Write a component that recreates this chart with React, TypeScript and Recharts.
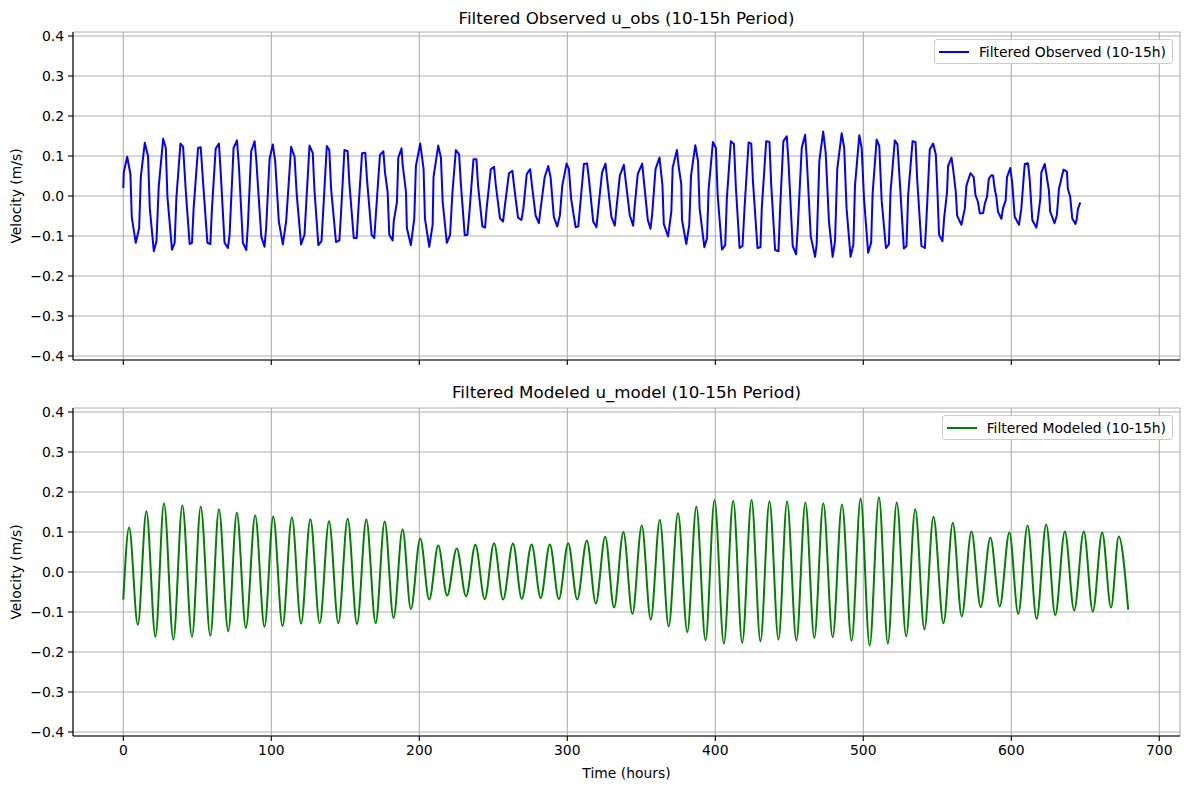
import React from 'react';
import { LineChart, Line, XAxis, YAxis, CartesianGrid, Legend } from 'recharts';

// Band-pass filtered (10-15 h) eastward velocity, observed record
const obsHours = [
  0, 0.3, 2.6, 4.8, 5.7, 8.4, 10.7, 11.8, 14.5, 16.7, 17.9, 20.6, 22.4, 23.9, 26.9, 28.7, 29.8, 32.9, 34.7, 35.9,
  38.6, 40.4, 42.1, 44.8, 46.4, 47.5, 50.5, 52.3, 53.8, 56.8, 58.8, 59.9, 62.4, 64.6, 65.8, 68.4, 70.7, 71.8, 74.5, 76.8,
  78.1, 80.8, 83.1, 84.2, 86.4, 88.7, 89.8, 93.2, 95.4, 96.5, 98.8, 101.0, 102.6, 105.1, 107.8, 110.0, 113.4, 115.7, 117.2, 120.1,
  122.4, 125.8, 128.0, 129.1, 131.8, 133.9, 135.4, 137.5, 139.2, 140.4, 143.7, 146.0, 147.1, 149.4, 151.6, 152.7, 155.7, 157.7, 159.0, 161.3,
  163.5, 164.7, 167.8, 169.6, 170.7, 173.4, 175.7, 176.8, 178.6, 179.7, 182.0, 182.7, 184.9, 185.8, 188.0, 188.7, 191.0, 191.6, 194.3, 196.6,
  197.7, 200.6, 202.9, 203.8, 206.7, 209.0, 209.6, 212.8, 214.6, 215.8, 218.6, 220.8, 222.4, 224.7, 226.9, 228.0, 230.7, 232.5, 233.7, 236.6,
  238.6, 239.7, 242.6, 244.4, 245.5, 248.3, 250.5, 251.6, 254.5, 256.6, 257.6, 260.6, 262.9, 264.0, 266.7, 269.0, 270.3, 272.6, 274.9, 276.0,
  278.6, 280.8, 282.0, 284.7, 287.1, 288.7, 290.9, 293.2, 295.0, 296.6, 299.5, 301.1, 302.6, 305.6, 307.4, 308.9, 311.2, 313.4, 314.6, 317.5,
  319.7, 321.3, 323.5, 325.8, 326.9, 329.8, 332.1, 333.2, 335.5, 338.2, 339.3, 342.2, 344.5, 345.4, 347.6, 350.6, 351.7, 354.4, 356.2, 357.3,
  359.6, 362.3, 364.3, 365.2, 368.1, 370.3, 371.2, 374.1, 375.2, 377.0, 377.5, 380.4, 382.4, 383.6, 386.5, 388.3, 389.4, 392.6, 394.4, 395.5,
  398.4, 400.4, 401.6, 404.5, 406.7, 407.8, 410.5, 412.6, 413.9, 416.4, 418.4, 419.8, 422.5, 424.3, 425.4, 428.5, 430.5, 431.4, 434.4, 436.6,
  437.7, 440.4, 442.7, 443.8, 446.0, 448.3, 449.4, 452.3, 454.6, 455.7, 458.4, 460.7, 461.7, 464.5, 467.4, 468.5, 470.3, 472.9, 474.6, 476.8,
  479.3, 480.9, 482.4, 485.4, 487.1, 488.7, 491.4, 493.3, 494.4, 497.3, 498.9, 500.5, 503.3, 505.3, 506.3, 509.0, 510.8, 512.4, 515.3, 517.3,
  518.4, 521.3, 523.1, 524.7, 527.4, 529.2, 530.3, 533.3, 535.3, 536.4, 539.3, 541.6, 542.7, 544.9, 547.2, 549.0, 549.9, 551.2, 553.5, 554.6,
  556.6, 557.3, 559.6, 560.7, 562.5, 563.4, 566.3, 568.6, 569.7, 572.4, 574.6, 575.8, 577.5, 578.7, 581.0, 582.1, 583.6, 584.8, 586.5, 587.7,
  588.8, 589.9, 591.0, 593.3, 594.4, 596.2, 597.1, 599.3, 600.6, 602.3, 605.2, 606.8, 608.4, 609.1, 611.3, 612.4, 614.2, 616.9, 618.0, 619.6,
  620.3, 622.6, 623.7, 625.4, 626.3, 629.2, 630.8, 632.2, 635.3, 637.6, 638.2, 639.8, 641.2, 643.4, 644.3, 645.0, 646.6,
];

const obsVelocity = [
  0.020, 0.059, 0.098, 0.055, -0.052, -0.117, -0.080, 0.047, 0.133, 0.100, -0.031, -0.138, -0.113, 0.022, 0.143, 0.120, -0.002, -0.134, -0.117, -0.002,
  0.131, 0.123, 0.018, -0.120, -0.117, -0.031, 0.120, 0.122, 0.039, -0.117, -0.120, -0.031, 0.118, 0.131, 0.059, -0.117, -0.130, -0.097, 0.120, 0.139,
  0.075, -0.117, -0.135, -0.072, 0.112, 0.137, 0.092, -0.101, -0.127, -0.080, 0.092, 0.129, 0.088, -0.064, -0.121, -0.064, 0.123, 0.098, 0.002, -0.121,
  -0.097, 0.126, 0.108, 0.018, -0.123, -0.113, -0.015, 0.125, 0.115, 0.018, -0.115, -0.111, -0.043, 0.115, 0.112, 0.034, -0.105, -0.105, -0.023, 0.107,
  0.108, 0.039, -0.097, -0.105, -0.043, 0.102, 0.112, 0.059, 0.010, -0.097, -0.111, -0.064, -0.015, 0.096, 0.119, 0.080, 0.010, -0.080, -0.123, -0.056,
  0.075, 0.131, 0.067, -0.056, -0.127, -0.072, 0.047, 0.126, 0.096, -0.015, -0.117, -0.097, 0.010, 0.115, 0.104, 0.034, -0.098, -0.097, -0.048, 0.092,
  0.092, 0.026, -0.076, -0.079, -0.031, 0.067, 0.073, 0.030, -0.056, -0.064, -0.031, 0.057, 0.063, 0.026, -0.054, -0.060, -0.031, 0.055, 0.067, 0.030,
  -0.049, -0.068, -0.031, 0.047, 0.075, 0.047, -0.052, -0.076, -0.048, 0.026, 0.081, 0.067, -0.007, -0.078, -0.076, -0.015, 0.080, 0.081, 0.043, -0.064,
  -0.078, -0.019, 0.059, 0.081, 0.043, -0.052, -0.074, -0.031, 0.051, 0.078, 0.043, -0.048, -0.074, -0.031, 0.055, 0.081, 0.039, -0.060, -0.082, -0.048,
  0.067, 0.096, 0.026, -0.070, -0.101, -0.039, 0.071, 0.115, 0.075, 0.030, -0.060, -0.120, -0.072, 0.051, 0.127, 0.088, -0.031, -0.128, -0.105, 0.018,
  0.135, 0.120, 0.002, -0.134, -0.123, -0.007, 0.137, 0.130, 0.022, -0.130, -0.125, -0.027, 0.134, 0.131, 0.039, -0.130, -0.128, -0.031, 0.137, 0.135,
  0.034, -0.135, -0.138, -0.031, 0.137, 0.149, 0.088, -0.125, -0.146, -0.080, 0.120, 0.153, 0.100, -0.101, -0.152, -0.121, 0.088, 0.161, 0.108, -0.064,
  -0.152, -0.113, 0.067, 0.157, 0.120, -0.031, -0.152, -0.121, 0.026, 0.152, 0.120, -0.007, -0.142, -0.117, 0.006, 0.141, 0.125, -0.011, -0.130, -0.121,
  0.010, 0.139, 0.129, 0.034, -0.131, -0.125, 0.002, 0.137, 0.135, 0.043, -0.125, -0.130, -0.056, 0.116, 0.131, 0.104, 0.030, -0.097, -0.113, -0.056,
  0.010, 0.075, 0.096, 0.067, 0.010, -0.049, -0.072, -0.031, 0.026, 0.057, 0.047, 0.002, -0.015, -0.043, -0.043, -0.019, -0.002, 0.043, 0.052, 0.051,
  0.018, -0.002, -0.039, -0.057, -0.031, -0.011, 0.047, 0.070, 0.034, -0.052, -0.072, -0.031, 0.047, 0.080, 0.082, 0.043, -0.060, -0.079, -0.056, -0.007,
  0.059, 0.080, 0.055, 0.014, -0.039, -0.068, -0.048, 0.018, 0.066, 0.061, 0.018, -0.002, -0.056, -0.070, -0.056, -0.033, -0.016,
];

// Modeled velocity: start, successive crests and troughs, end
const modelHours = [
  0, 3.9, 9.8, 15.6, 21.7, 27.5, 33.8, 39.9, 46.4, 52.3, 58.8, 64.6, 70.9, 76.7, 82.8, 89.1, 95.4, 101.3, 107.6, 113.9,
  120.1, 126.4, 132.7, 139.0, 145.3, 151.6, 157.9, 164.2, 170.5, 176.6, 182.6, 188.7, 194.3, 200.6, 206.7, 212.8, 218.8, 225.3, 231.6, 237.9,
  244.2, 250.5, 256.6, 263.3, 269.2, 275.9, 282.0, 288.2, 294.3, 300.6, 306.7, 313.2, 319.3, 325.6, 331.6, 337.9, 344.0, 350.3, 356.4, 362.5,
  368.5, 374.8, 381.1, 387.2, 393.4, 399.5, 405.8, 412.1, 418.2, 424.5, 430.5, 436.6, 442.7, 448.5, 454.8, 460.9, 466.9, 473.0, 479.3, 485.6,
  492.1, 498.2, 504.3, 510.6, 516.6, 522.6, 529.0, 535.1, 541.3, 547.4, 554.2, 560.5, 566.5, 573.1, 579.3, 585.9, 592.2, 598.7, 604.7, 611.0,
  617.1, 623.6, 629.7, 636.2, 642.5, 649.0, 655.1, 661.4, 667.4, 672.6, 679.0,
];

const modelVelocity = [
  -0.069, 0.111, -0.132, 0.152, -0.162, 0.172, -0.169, 0.166, -0.162, 0.163, -0.159, 0.157, -0.148, 0.148, -0.140, 0.141, -0.137, 0.139, -0.135, 0.136,
  -0.129, 0.132, -0.128, 0.127, -0.128, 0.133, -0.130, 0.131, -0.128, 0.126, -0.115, 0.107, -0.093, 0.084, -0.069, 0.066, -0.059, 0.059, -0.061, 0.068,
  -0.068, 0.072, -0.069, 0.071, -0.067, 0.069, -0.065, 0.069, -0.068, 0.072, -0.069, 0.079, -0.079, 0.088, -0.089, 0.100, -0.105, 0.116, -0.119, 0.130,
  -0.136, 0.147, -0.150, 0.163, -0.171, 0.180, -0.179, 0.178, -0.177, 0.180, -0.173, 0.177, -0.169, 0.176, -0.171, 0.174, -0.165, 0.172, -0.163, 0.169,
  -0.172, 0.184, -0.184, 0.187, -0.179, 0.174, -0.161, 0.157, -0.144, 0.138, -0.128, 0.123, -0.111, 0.101, -0.088, 0.086, -0.086, 0.099, -0.105, 0.116,
  -0.117, 0.119, -0.108, 0.101, -0.096, 0.101, -0.099, 0.099, -0.089, 0.089, -0.094,
];

const hourTicks = [0, 100, 200, 300, 400, 500, 600, 700];
const velocityTicks = [-0.4, -0.3, -0.2, -0.1, 0, 0.1, 0.2, 0.3, 0.4];

const obsRows = obsHours.map((t, i) => ({ t, v: obsVelocity[i] }));
const modelRows = modelHours.map((t, i) => ({ t, v: modelVelocity[i] }));

const FONT = '"DejaVu Sans", Verdana, sans-serif';
const X_DOMAIN: [number, number] = [-34, 714];
const Y_DOMAIN: [number, number] = [-0.41, 0.41];
const W = 1189;

const fmtVelocity = (v: number) => v.toFixed(1).replace('-', '\u2212');
const fmtHour = (v: number) => String(v);
const fmtHidden = () => '';

type LegendBoxProps = { color: string; label: string };

function LegendBox({ color, label }: LegendBoxProps) {
  return (
    <div
      style={{
        display: 'flex',
        alignItems: 'center',
        height: 23,
        padding: '0 6px 0 4px',
        border: '1px solid #cccccc',
        borderRadius: 3,
        background: 'rgba(255,255,255,0.8)',
        fontFamily: FONT,
        fontSize: 13.9,
        color: '#000',
        whiteSpace: 'nowrap',
      }}
    >
      <svg width={30} height={4} style={{ marginRight: 10 }}>
        <line x1={0} y1={2} x2={30} y2={2} stroke={color} strokeWidth={2} />
      </svg>
      <span>{label}</span>
    </div>
  );
}

type PanelProps = {
  rows: { t: number; v: number }[];
  color: string;
  label: string;
  curve: 'linear' | 'monotone';
  height: number;
  xAxisHeight: number;
  showHourLabels: boolean;
};

function Panel({ rows, color, label, curve, height, xAxisHeight, showHourLabels }: PanelProps) {
  const tickStyle = { fill: '#000', fontSize: 13.9, fontFamily: FONT };
  return (
    <LineChart width={W} height={height} data={rows} margin={{ top: 32, right: 9, bottom: 0, left: 0 }}>
      <CartesianGrid stroke="#b0b0b0" strokeWidth={1.1} />
      <XAxis
        dataKey="t"
        type="number"
        domain={X_DOMAIN}
        ticks={hourTicks}
        interval={0}
        height={xAxisHeight}
        tickSize={5}
        tickMargin={4}
        tick={tickStyle}
        tickFormatter={showHourLabels ? fmtHour : fmtHidden}
        tickLine={{ stroke: '#000', strokeWidth: 1.1 }}
        axisLine={{ stroke: '#000', strokeWidth: 1.1 }}
        allowDataOverflow
      />
      <XAxis
        xAxisId="top"
        orientation="top"
        type="number"
        domain={X_DOMAIN}
        height={0}
        tick={false}
        tickLine={false}
        axisLine={{ stroke: '#000', strokeWidth: 1.1 }}
      />
      <YAxis
        type="number"
        domain={Y_DOMAIN}
        ticks={velocityTicks}
        interval={0}
        width={73}
        tickSize={5}
        tickMargin={4}
        tick={tickStyle}
        tickFormatter={fmtVelocity}
        tickLine={{ stroke: '#000', strokeWidth: 1.1 }}
        axisLine={{ stroke: '#000', strokeWidth: 1.1 }}
        allowDataOverflow
      />
      <YAxis
        yAxisId="right"
        orientation="right"
        type="number"
        domain={Y_DOMAIN}
        width={0}
        tick={false}
        tickLine={false}
        axisLine={{ stroke: '#000', strokeWidth: 1.1 }}
      />
      <Line
        dataKey="v"
        name={label}
        type={curve}
        stroke={color}
        strokeWidth={2}
        strokeLinejoin="round"
        dot={false}
        activeDot={false}
        isAnimationActive={false}
      />
      <Legend
        layout="horizontal"
        verticalAlign="middle"
        align="center"
        wrapperStyle={{ top: 39, right: 16, left: 'auto', width: 'auto' }}
        content={() => <LegendBox color={color} label={label} />}
      />
    </LineChart>
  );
}

const titleStyle: React.CSSProperties = {
  position: 'absolute',
  left: 73,
  width: 1107,
  textAlign: 'center',
  fontFamily: FONT,
  fontSize: 16.7,
  lineHeight: '20px',
  color: '#000',
  whiteSpace: 'nowrap',
};

const axisLabelStyle: React.CSSProperties = {
  position: 'absolute',
  fontFamily: FONT,
  fontSize: 13.9,
  lineHeight: '16px',
  color: '#000',
  whiteSpace: 'nowrap',
};

function VelocityLabel({ centerY }: { centerY: number }) {
  return (
    <div
      style={{
        ...axisLabelStyle,
        left: 16,
        top: centerY,
        transform: 'translate(-50%, -50%) rotate(-90deg)',
      }}
    >
      Velocity (m/s)
    </div>
  );
}

export default function App() {
  return (
    <div style={{ position: 'absolute', left: 0, top: 0, width: W, height: 789, background: '#fff', overflow: 'hidden' }}>
      <div style={{ ...titleStyle, top: 8 }}>Filtered Observed u_obs (10-15h Period)</div>
      <div style={{ ...titleStyle, top: 382 }}>Filtered Modeled u_model (10-15h Period)</div>

      <div style={{ position: 'absolute', left: 0, top: 0 }}>
        <Panel
          rows={obsRows}
          color="#0000ff"
          label="Filtered Observed (10-15h)"
          curve="linear"
          height={380}
          xAxisHeight={20}
          showHourLabels={false}
        />
      </div>
      <div style={{ position: 'absolute', left: 0, top: 376 }}>
        <Panel
          rows={modelRows}
          color="#008000"
          label="Filtered Modeled (10-15h)"
          curve="monotone"
          height={413}
          xAxisHeight={53}
          showHourLabels
        />
      </div>

      <VelocityLabel centerY={196} />
      <VelocityLabel centerY={572} />
      <div style={{ ...axisLabelStyle, left: 626.5, top: 773, transform: 'translate(-50%, -50%)' }}>Time (hours)</div>
    </div>
  );
}
